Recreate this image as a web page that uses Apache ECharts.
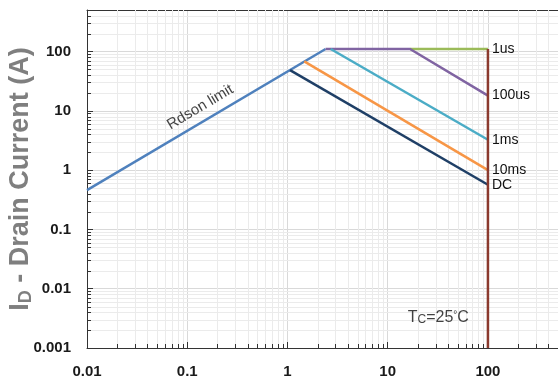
<!DOCTYPE html>
<html>
<head>
<meta charset="utf-8">
<script src="https://cdn.jsdelivr.net/npm/echarts@6/dist/echarts.min.js"></script>
<style>
html,body{margin:0;padding:0;background:#fff;}
#main{width:558px;height:385px;}
</style>
</head>
<body>
<div id="main"></div>
<script>
// 轴范围与刻度标签
var xMin = 0.01, xMax = 500;
var yMin = 0.001, yMax = 500;
var xTickLabels = ['0.01', '0.1', '1', '10', '100'];
var yTickLabels = ['0.001', '0.01', '0.1', '1', '10', '100'];

// SOA 曲线 [Vds, Id]
var rdsonLimit = [[0.01, 0.46], [2.4, 110]];
var line1us = [[16.7, 110], [100, 110]];
var line100us = [[2.4, 110], [16.7, 110], [100, 18]];
var line1ms = [[2.7, 110], [100, 3.25]];
var line10ms = [[1.47, 68], [100, 1.0]];
var lineDC = [[1.06, 48.5], [100, 0.565]];
var vdsLimit = [[100, 110], [100, 0.001]];

// 次刻度 (2..9 x 10^n)
function minors(lo, hi) {
    var out = [];
    for (var e = Math.floor(Math.log10(lo)); e <= Math.ceil(Math.log10(hi)); e++) {
        for (var m = 2; m <= 9; m++) {
            var v = m * Math.pow(10, e);
            if (v > lo && v < hi) out.push(v);
        }
    }
    return out;
}
var xMinor = minors(xMin, xMax);
var yMinor = minors(yMin, yMax);

var sans = "'Liberation Sans',Arial,sans-serif";

function decadeLabel(list, base) {
    return function (v) {
        var e = Math.log10(v);
        var r = Math.round(e);
        if (Math.abs(e - r) > 1e-6) return '';
        return list[r - base] || '';
    };
}

function crisp(v) { return Math.round(v) + 0.5; }

function renderMinorX(params, api) {
    var v = api.value(0);
    var t = api.coord([v, yMax]);
    var b = api.coord([v, yMin]);
    var x = crisp(t[0]);
    return {
        type: 'group',
        children: [
            {type: 'line', shape: {x1: x, y1: t[1], x2: x, y2: b[1]}, style: {stroke: '#ebebeb', lineWidth: 1}},
            {type: 'line', shape: {x1: x, y1: b[1], x2: x, y2: b[1] - 4}, style: {stroke: '#333', lineWidth: 1}}
        ]
    };
}

function renderMinorY(params, api) {
    var v = api.value(1);
    var l = api.coord([xMin, v]);
    var r = api.coord([xMax, v]);
    var y = crisp(l[1]);
    return {
        type: 'group',
        children: [
            {type: 'line', shape: {x1: l[0], y1: y, x2: r[0], y2: y}, style: {stroke: '#ebebeb', lineWidth: 1}},
            {type: 'line', shape: {x1: l[0], y1: y, x2: l[0] + 4, y2: y}, style: {stroke: '#333', lineWidth: 1}}
        ]
    };
}

function soa(name, data, color) {
    return {
        name: name,
        type: 'line',
        data: data,
        symbol: 'none',
        z: 5,
        lineStyle: {color: color, width: 2.5},
        endLabel: {
            show: true,
            formatter: '{a}',
            color: '#111',
            fontFamily: sans,
            fontSize: 14,
            distance: 4
        }
    };
}

var myChart = echarts.init(document.getElementById('main'));

var option = {
    animation: false,
    grid: {left: 87, right: 0, top: 10, bottom: 37, containLabel: false, outerBoundsMode: 'none'},
    xAxis: [{
        type: 'log',
        min: xMin,
        max: xMax,
        axisLine: {lineStyle: {color: '#333', width: 1}},
        axisTick: {inside: true, length: 6, lineStyle: {color: '#333'}},
        axisLabel: {
            margin: 16,
            color: '#1a1a1a',
            fontWeight: 'bold',
            fontSize: 15,
            fontFamily: sans,
            showMaxLabel: false,
            formatter: decadeLabel(xTickLabels, -2)
        },
        splitLine: {show: true, lineStyle: {color: '#d9d9d9'}}
    }, {
        type: 'log',
        position: 'top',
        min: xMin,
        max: xMax,
        axisLine: {show: true, lineStyle: {color: '#333', width: 1}},
        axisTick: {show: false},
        axisLabel: {show: false},
        splitLine: {show: false}
    }],
    yAxis: {
        type: 'log',
        min: yMin,
        max: yMax,
        name: '{a|I}{b|D}{a| - Drain Current (A)}',
        nameLocation: 'middle',
        nameRotate: 90,
        nameGap: 52,
        nameMoveOverlap: false,
        nameTextStyle: {
            rich: {
                a: {fontSize: 27, fontWeight: 'bold', color: '#7f7f7f', fontFamily: sans, lineHeight: 28},
                b: {fontSize: 18, fontWeight: 'bold', color: '#7f7f7f', fontFamily: sans, lineHeight: 28, verticalAlign: 'bottom', padding: [10, 0, 0, 0]}
            }
        },
        axisLine: {show: true, lineStyle: {color: '#333', width: 1}},
        axisTick: {inside: true, length: 6, lineStyle: {color: '#333'}},
        axisLabel: {
            margin: 16,
            color: '#1a1a1a',
            fontWeight: 'bold',
            fontSize: 15,
            fontFamily: sans,
            showMaxLabel: false,
            formatter: decadeLabel(yTickLabels, -3)
        },
        splitLine: {show: true, lineStyle: {color: '#d9d9d9'}}
    },
    series: [
        {
            type: 'custom',
            renderItem: renderMinorX,
            data: xMinor.map(function (v) { return [v, yMin]; }),
            silent: true,
            z: 1,
            clip: true
        },
        {
            type: 'custom',
            renderItem: renderMinorY,
            data: yMinor.map(function (v) { return [xMin, v]; }),
            silent: true,
            z: 1,
            clip: true
        },
        {
            name: 'Rdson limit',
            type: 'line',
            data: rdsonLimit,
            symbol: 'none',
            z: 5,
            lineStyle: {color: '#4f81bd', width: 2.5}
        },
        soa('1us', line1us, '#9bbb59'),
        soa('100us', line100us, '#8064a2'),
        soa('1ms', line1ms, '#4bacc6'),
        soa('10ms', line10ms, '#f79646'),
        soa('DC', lineDC, '#1f3f66'),
        {
            type: 'line',
            data: vdsLimit,
            symbol: 'none',
            z: 6,
            lineStyle: {color: '#8b3a2e', width: 2.5}
        },
        {
            type: 'scatter',
            symbolSize: 0,
            z: 7,
            data: [[0.135, 11.5]],
            label: {
                show: true,
                position: 'inside',
                rotate: 30.7,
                formatter: 'Rdson limit',
                color: '#111',
                fontFamily: sans,
                fontSize: 15
            }
        },
        {
            type: 'scatter',
            symbolSize: 0,
            z: 7,
            data: [[32, 0.0032]],
            label: {
                show: true,
                position: 'inside',
                formatter: '{t|T}{c|C}{t|=25}{d|°}{t|C}',
                rich: {
                    t: {fontFamily: sans, fontSize: 16, color: '#111'},
                    c: {fontFamily: sans, fontSize: 12, color: '#111', verticalAlign: 'bottom'},
                    d: {fontFamily: sans, fontSize: 10, color: '#111', verticalAlign: 'top'}
                }
            }
        }
    ]
};

myChart.setOption(option);
</script>
</body>
</html>
